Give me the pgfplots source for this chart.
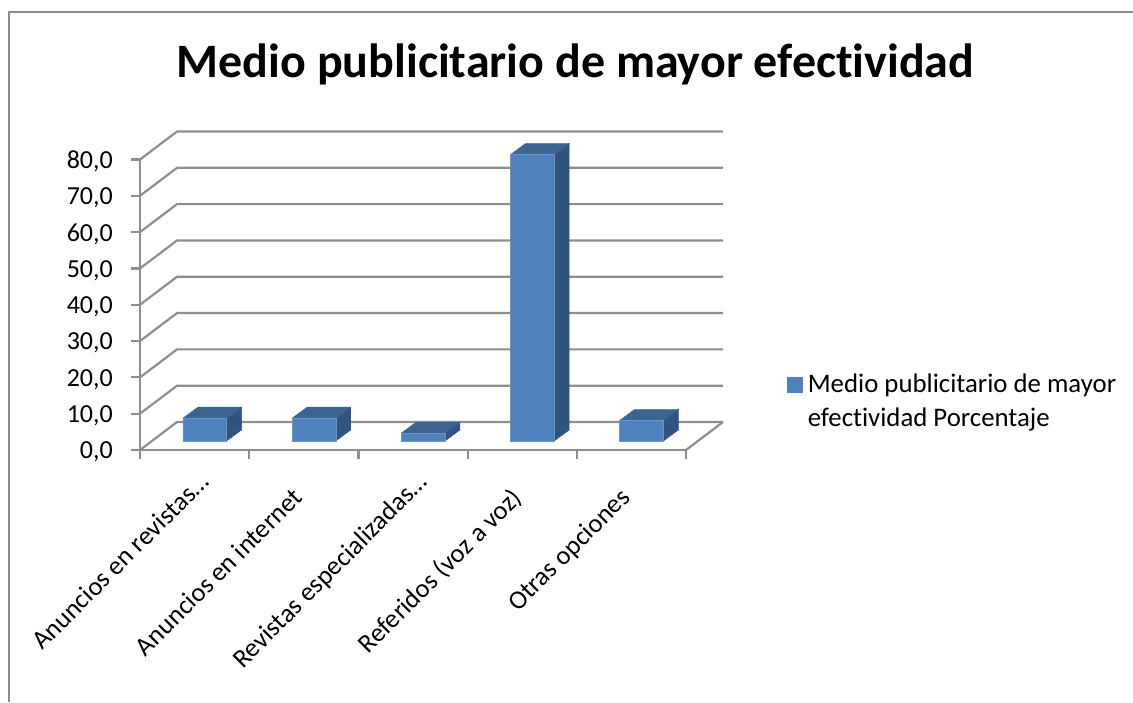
\documentclass[border=0pt]{standalone}
\usepackage{pgfplots}
\usepackage{pgfplotstable}
\usepackage{fontspec}
\setmainfont{Carlito}[Ligatures=NoCommon]
\pgfplotsset{compat=1.18}
\definecolor{gridgray}{HTML}{8E8E8E}
\definecolor{framegray}{HTML}{8C8C8C}
\definecolor{barfront}{HTML}{4F81BD}
\definecolor{bartop}{HTML}{3C6491}
\definecolor{barside}{HTML}{30547F}

% Percentages per advertising medium, with their slots along the category axis
\pgfplotstableread{
pos pct
0.5 6.3
1.5 6.3
2.5 2.2
3.5 78.9
4.5 5.7
}\mediosdata

% Depth of the back wall, in axis units
\newcommand{\walldx}{0.339}
\newcommand{\walldy}{7.71}

% One back-wall grid level, with its diagonal along the left wall
\newcommand{\gridlevel}[1]{%
  \pgfmathsetmacro{\xa}{\walldx}%
  \pgfmathsetmacro{\xb}{5+\walldx}%
  \pgfmathsetmacro{\ya}{#1+\walldy}%
  \addplot[gridgray, line width=2.2pt, forget plot] coordinates {(0,#1) (\xa,\ya) (\xb,\ya)};%
}

% Side and top faces of a bar at slot #1 with value #2
\newcommand{\barfaces}[2]{%
  \pgfmathsetmacro{\xl}{#1-0.106}%
  \pgfmathsetmacro{\xr}{#1+0.293}%
  \pgfmathsetmacro{\xbl}{\xl+0.137}%
  \pgfmathsetmacro{\xbr}{\xr+0.137}%
  \pgfmathsetmacro{\yb}{2.48}%
  \pgfmathsetmacro{\yt}{2.48+#2}%
  \pgfmathsetmacro{\ybb}{\yb+3.03}%
  \pgfmathsetmacro{\ytb}{\yt+3.03}%
  \addplot[fill=barside, draw=barside, line width=0.4pt, forget plot]
    coordinates {(\xr,\yb) (\xbr,\ybb) (\xbr,\ytb) (\xr,\yt)} -- cycle;%
  \addplot[fill=bartop, draw=bartop, line width=0.4pt, forget plot]
    coordinates {(\xl,\yt) (\xr,\yt) (\xbr,\ytb) (\xbl,\ytb)} -- cycle;%
}

\begin{document}
\begin{tikzpicture}[x=1pt, y=1pt]
\useasboundingbox (0,0) rectangle (1133,702);
% Chart frame
\draw[framegray, line width=2.2pt] (9,0) -- (9,690) -- (1133,690);
% Title
\node[font=\fontsize{48}{52}\selectfont\bfseries, anchor=center] at (575.5,638)
  {Medio publicitario de mayor efectividad};

\begin{axis}[
  at={(140pt,252pt)}, anchor=south west,
  scale only axis, width=546pt, height=290.5pt,
  xmin=0, xmax=5, ymin=0, ymax=80,
  clip=false,
  axis x line=bottom, axis y line=left,
  axis line style={gridgray, line width=2.2pt, -},
  xtick={0.5,1.5,2.5,3.5,4.5},
  xticklabels={Anuncios en revistas…, Anuncios en internet\kern22pt, Revistas especializadas…, Referidos (voz a voz)\kern22pt, Otras opciones\kern22pt},
  minor xtick={0,1,2,3,4,5},
  ytick={0,10,20,30,40,50,60,70,80},
  major tick length=9pt,
  minor tick length=9pt,
  xtick style={draw=none},
  minor x tick style={draw=gridgray, line width=2.2pt},
  ytick style={gridgray, line width=2.2pt},
  xtick align=outside, ytick align=outside,
  xticklabel style={rotate=45, anchor=north east, font=\fontsize{26.4}{30}\selectfont, inner sep=0pt, xshift=-6pt, yshift=-10pt},
  yticklabel style={font=\fontsize{26}{30}\selectfont, inner sep=0pt, xshift=-18pt, yshift=-2pt},
  yticklabel={\pgfmathprintnumber[fixed, fixed zerofill, precision=1, use comma, assume math mode=true]{\tick}},
  legend style={at={(644pt,78pt)}, anchor=north west, draw=none, fill=none,
    font=\fontsize{26.8}{33.5}\selectfont, nodes={align=left, inner sep=0pt}},
  legend image code/.code={\fill[barfront] (0pt,-0.5pt) rectangle (15pt,14.5pt);\path (20pt,0pt);},
]
\gridlevel{0}
\gridlevel{10}
\gridlevel{20}
\gridlevel{30}
\gridlevel{40}
\gridlevel{50}
\gridlevel{60}
\gridlevel{70}
\gridlevel{80}
\addplot[gridgray, line width=2.2pt, forget plot] coordinates {(5,0) (5.339,7.71)};

\barfaces{0.5}{6.3}
\barfaces{1.5}{6.3}
\barfaces{2.5}{2.2}
\barfaces{3.5}{78.9}
\barfaces{4.5}{5.7}

\addplot[ybar, bar width=43.7pt, fill=barfront, draw=barfront!85!white, line width=0.6pt,
  xshift=10.2pt, yshift=9pt] table[x=pos, y=pct] {\mediosdata};
\addlegendentry{Medio publicitario de mayor\\efectividad Porcentaje}
\end{axis}
\end{tikzpicture}
\end{document}
